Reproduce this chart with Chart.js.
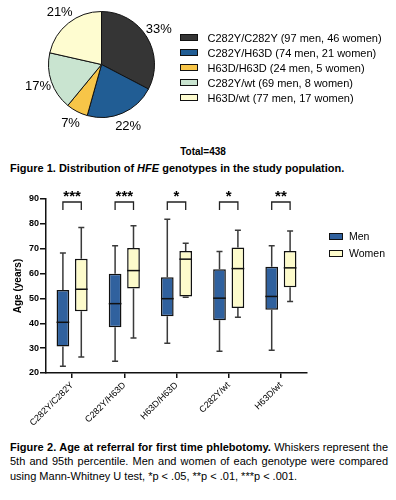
<!DOCTYPE html>
<html><head><meta charset="utf-8">
<script src="https://cdn.jsdelivr.net/npm/chart.js@4.4.0/dist/chart.umd.min.js"></script>
<style>
body{margin:0;width:396px;height:500px;position:relative;background:#fff;font-family:"Liberation Sans",Arial,sans-serif;overflow:hidden;color:#000}
#pieWrap{position:absolute;left:0;top:0;width:203px;height:140px}
#boxWrap{position:absolute;left:0;top:185px;width:396px;height:240px}
.row{position:absolute;height:14px;line-height:14px;white-space:nowrap}
.sw{position:absolute;box-sizing:border-box;border:1px solid #111}
#total{position:absolute;left:0;width:406px;top:145px;text-align:center;font-weight:bold;font-size:10px;line-height:14px}
#cap1{position:absolute;left:10px;top:161px;font-weight:bold;font-size:11px;line-height:14px;white-space:nowrap}
#cap2{position:absolute;left:10px;top:440px;width:378px;font-size:11px;line-height:14.3px}
#cap2 div{text-align:justify;text-align-last:justify;white-space:nowrap}
#cap2 div.last{text-align-last:left}
</style></head>
<body>
<div id="pieWrap"><canvas id="pie"></canvas></div>
<div id="pieLegend"></div>
<div id="total"></div>
<div id="cap1">Figure 1. Distribution of <i>HFE</i> genotypes in the study population.</div>
<div id="boxWrap"><canvas id="box"></canvas></div>
<div id="boxLegend"></div>
<div id="cap2">
<div><b>Figure 2. Age at referral for first time phlebotomy.</b> Whiskers represent the</div>
<div>5th and 95th percentile. Men and women of each genotype were compared</div>
<div class="last">using Mann-Whitney U test, *p &lt; .05, **p &lt; .01, ***p &lt; .001.</div>
</div>
<script>
// ---------- Figure 1 data ----------
const genotypes = ['C282Y/C282Y','C282Y/H63D','H63D/H63D','C282Y/wt','H63D/wt'];
const menCounts = [97, 74, 24, 69, 77];
const womenCounts = [46, 21, 5, 8, 17];
const pctLabels = ['33%','22%','7%','17%','21%'];
const pieColors = ['#353535','#215d94','#f7c548','#c9e4d0','#fefcd0'];

// ---------- Figure 2 data ----------
const categories = ['C282Y/C282Y','C282Y/H63D','H63D/H63D','C282Y/wt','H63D/wt'];
const menLow    = [22.7, 24.7, 32.0, 28.7, 29.2];
const menQ1     = [30.7, 38.4, 42.8, 41.2, 45.4];
const menMedian = [40.4, 47.9, 49.9, 50.1, 50.8];
const menQ3     = [53.4, 59.9, 58.5, 61.7, 62.7];
const menHigh   = [68.3, 71.2, 81.9, 68.9, 71.2];
const womenLow    = [26.4, 34.1, 50.5, 42.4, 48.8];
const womenQ1     = [44.8, 54.0, 50.8, 46.1, 54.5];
const womenMedian = [53.7, 61.2, 65.8, 62.0, 62.3];
const womenQ3     = [66.0, 70.3, 69.1, 70.5, 69.1];
const womenHigh   = [78.5, 79.2, 72.2, 77.4, 77.1];
const significance = ['***','***','*','*','**'];
const yTicks = [20,30,40,50,60,70,80,90];
const seriesNames = ['Men','Women'];
const seriesColors = ['#30619e','#fdfbcb'];

Chart.defaults.font.family = '"Liberation Sans", Arial, sans-serif';
Chart.defaults.color = '#000';

// ---------- Pie ----------
const totals = genotypes.map((g,i)=>menCounts[i]+womenCounts[i]);
const grand = totals.reduce((a,b)=>a+b,0);
document.getElementById('total').textContent = 'Total=' + grand;

const pieLabelPlugin = {
  id:'pieLabels',
  afterDatasetsDraw(chart){
    const ctx = chart.ctx;
    const meta = chart.getDatasetMeta(0);
    ctx.save();
    ctx.font = '13px "Liberation Sans", Arial, sans-serif';
    ctx.fillStyle = '#000';
    ctx.textAlign = 'center';
    ctx.textBaseline = 'middle';
    meta.data.forEach((arc,i)=>{
      const mid = (arc.startAngle + arc.endAngle)/2;
      const r = arc.outerRadius + 14;
      ctx.fillText(pctLabels[i], arc.x + Math.cos(mid)*r, arc.y + Math.sin(mid)*r);
    });
    ctx.restore();
  }
};

new Chart(document.getElementById('pie'), {
  type:'pie',
  data:{labels:genotypes, datasets:[{data:totals, backgroundColor:pieColors, borderColor:'#111', borderWidth:1}]},
  options:{
    responsive:true, maintainAspectRatio:false, animation:false,
    layout:{padding:{top:11,bottom:22,left:0,right:0}},
    plugins:{legend:{display:false}, tooltip:{enabled:false}}
  },
  plugins:[pieLabelPlugin]
});

// pie legend (HTML)
const pl = document.getElementById('pieLegend');
genotypes.forEach((g,i)=>{
  const cy = 37.7 + 15*i;
  const sw = document.createElement('div');
  sw.className='sw';
  Object.assign(sw.style,{left:'180px',top:(cy-3.5)+'px',width:'18px',height:'7px',background:pieColors[i]});
  pl.appendChild(sw);
  const t = document.createElement('div');
  t.className='row';
  Object.assign(t.style,{left:'207.5px',top:(cy-7)+'px',fontSize:'11px'});
  t.textContent = g + ' (' + menCounts[i] + ' men, ' + womenCounts[i] + ' women)';
  pl.appendChild(t);
});

// box legend (HTML)
const bl = document.getElementById('boxLegend');
seriesNames.forEach((s,i)=>{
  const cy = 236 + 17*i;
  const sw = document.createElement('div');
  sw.className='sw';
  Object.assign(sw.style,{left:'329px',top:(cy-3.5)+'px',width:'14px',height:'7px',background:seriesColors[i]});
  bl.appendChild(sw);
  const t = document.createElement('div');
  t.className='row';
  Object.assign(t.style,{left:'349px',top:(cy-7)+'px',fontSize:'10.5px'});
  t.textContent = s;
  bl.appendChild(t);
});

// ---------- Box plot ----------
const stats = [
  {low:menLow,q1:menQ1,med:menMedian,q3:menQ3,high:menHigh},
  {low:womenLow,q1:womenQ1,med:womenMedian,q3:womenQ3,high:womenHigh}
];

const boxPlugin = {
  id:'boxExtras',
  beforeDatasetsDraw(chart){
    const ctx = chart.ctx, y = chart.scales.y;
    ctx.save();
    ctx.strokeStyle = '#3a3a3a';
    ctx.lineWidth = 1.5;
    stats.forEach((s,d)=>{
      chart.getDatasetMeta(d).data.forEach((el,i)=>{
        const x = el.x, cap = 3;
        ctx.beginPath();
        ctx.moveTo(x, y.getPixelForValue(s.q3[i])); ctx.lineTo(x, y.getPixelForValue(s.high[i]));
        ctx.moveTo(x, y.getPixelForValue(s.q1[i])); ctx.lineTo(x, y.getPixelForValue(s.low[i]));
        ctx.moveTo(x-cap, y.getPixelForValue(s.high[i])); ctx.lineTo(x+cap, y.getPixelForValue(s.high[i]));
        ctx.moveTo(x-cap, y.getPixelForValue(s.low[i])); ctx.lineTo(x+cap, y.getPixelForValue(s.low[i]));
        ctx.stroke();
      });
    });
    ctx.restore();
  },
  afterDatasetsDraw(chart){
    const ctx = chart.ctx, y = chart.scales.y, area = chart.chartArea;
    ctx.save();
    ctx.strokeStyle = '#111';
    ctx.lineWidth = 1.5;
    stats.forEach((s,d)=>{
      chart.getDatasetMeta(d).data.forEach((el,i)=>{
        const py = y.getPixelForValue(s.med[i]);
        ctx.beginPath();
        ctx.moveTo(el.x - el.width/2, py); ctx.lineTo(el.x + el.width/2, py);
        ctx.stroke();
      });
    });
    // significance brackets
    const m0 = chart.getDatasetMeta(0).data, m1 = chart.getDatasetMeta(1).data;
    ctx.strokeStyle = '#222';
    ctx.lineWidth = 1.3;
    ctx.font = 'bold 15px "Liberation Sans", Arial, sans-serif';
    ctx.fillStyle = '#000';
    ctx.textAlign = 'center';
    ctx.textBaseline = 'middle';
    significance.forEach((sig,i)=>{
      const x0 = m0[i].x, x1 = m1[i].x, top = area.top + 3;
      ctx.beginPath();
      ctx.moveTo(x0, top + 8); ctx.lineTo(x0, top); ctx.lineTo(x1, top); ctx.lineTo(x1, top + 8);
      ctx.stroke();
      ctx.fillText(sig, (x0+x1)/2, top - 5);
    });
    ctx.restore();
  }
};

new Chart(document.getElementById('box'), {
  type:'bar',
  data:{
    labels:categories,
    datasets: stats.map((s,d)=>({
      label:seriesNames[d],
      data:categories.map((c,i)=>[s.q1[i], s.q3[i]]),
      backgroundColor:seriesColors[d],
      borderColor:'#111',
      borderWidth:1.5,
      borderSkipped:false,
      categoryPercentage:0.705,
      barPercentage:0.69
    }))
  },
  options:{
    responsive:true, maintainAspectRatio:false, animation:false,
    layout:{padding:{top:14,right:89,bottom:0,left:0}},
    plugins:{legend:{display:false}, tooltip:{enabled:false}},
    scales:{
      x:{
        offset:true,
        grid:{display:true, offset:false, drawOnChartArea:false, drawTicks:true, tickLength:5, tickColor:'#111', lineWidth:1.5},
        border:{display:true, color:'#111', width:1.5},
        ticks:{font:{size:9}, color:'#000', maxRotation:45, minRotation:45, padding:2, autoSkip:false},
        afterFit(scale){ scale.height = 52; }
      },
      y:{
        min:yTicks[0], max:yTicks[yTicks.length-1],
        afterBuildTicks(scale){ scale.ticks = yTicks.map(v=>({value:v})); },
        grid:{display:true, drawOnChartArea:false, drawTicks:true, tickLength:6, tickColor:'#111', lineWidth:1.5},
        border:{display:true, color:'#111', width:1.5},
        ticks:{font:{size:9, weight:'bold'}, color:'#000', padding:1},
        title:{display:true, text:'Age (years)', font:{size:10, weight:'bold'}, color:'#000', padding:{top:12,bottom:0}},
        afterFit(scale){ scale.width = 46; }
      }
    }
  },
  plugins:[boxPlugin]
});
</script>
</body></html>
